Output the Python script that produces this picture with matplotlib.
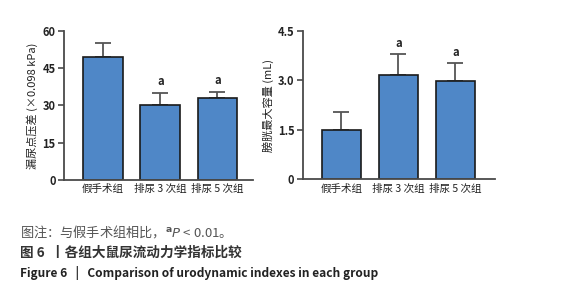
import matplotlib
matplotlib.use('Agg')
import matplotlib.pyplot as plt

plt.rcParams['font.family'] = ['Noto Sans CJK SC', 'DejaVu Sans']
plt.rcParams['mathtext.fontset'] = 'dejavusans'

# 数据
groups = ['假手术组', '排尿 3 次组', '排尿 5 次组']
pressure = [49.4, 30.2, 33.0]
pressure_err = [5.6, 5.0, 2.6]
volume = [1.49, 3.16, 2.99]
volume_err = [0.56, 0.63, 0.52]
marks = ['', 'a', 'a']

bar_color = '#4f87c7'
axis_color = '#4a4a4a'

fig = plt.figure(figsize=(5.65, 3.0), dpi=100)
ax1 = fig.add_axes([0.1133, 0.40, 0.3345, 0.4967])
ax2 = fig.add_axes([0.5357, 0.4023, 0.340, 0.4953])


def draw_panel(ax, vals, errs, ylim, yticks, yticklabels, ylabel, xlim):
    x = range(len(vals))
    ax.bar(x, vals, width=0.69, color=bar_color, edgecolor='#1a1a1a',
           linewidth=1.2, zorder=2)
    ax.errorbar(x, vals, yerr=[[0] * len(errs), errs], fmt='none',
                ecolor='#555555', elinewidth=1.3, capsize=5.5, capthick=1.3,
                zorder=1)
    for i, m in enumerate(marks):
        if m:
            ax.text(i, vals[i] + errs[i] + ylim[1] * 0.03, m, ha='center',
                    va='bottom', fontsize=8, fontweight='bold', color='#222222')
    ax.set_xlim(*xlim)
    ax.set_ylim(*ylim)
    ax.set_yticks(yticks)
    ax.set_yticklabels(yticklabels, fontsize=8, fontweight='bold', color='#222222')
    ax.set_xticks(list(x))
    ax.set_xticklabels(groups, fontsize=7.6, color='#222222')
    ax.tick_params(axis='x', length=0, pad=3)
    ax.tick_params(axis='y', length=4, width=1.2, color=axis_color, pad=2)
    ax.set_ylabel(ylabel, fontsize=8, color='#222222', labelpad=3)
    for s in ['top', 'right']:
        ax.spines[s].set_visible(False)
    for s in ['left', 'bottom']:
        ax.spines[s].set_color(axis_color)
        ax.spines[s].set_linewidth(1.3)


draw_panel(ax1, pressure, pressure_err, (0, 60), [0, 15, 30, 45, 60],
           ['0', '15', '30', '45', '60'], '漏尿点压差 (×0.098 kPa)', (-0.68, 2.62))
draw_panel(ax2, volume, volume_err, (0, 4.5), [0, 1.5, 3.0, 4.5],
           ['0', '1.5', '3.0', '4.5'], '膀胱最大容量 (mL)', (-0.68, 2.69))

fig.text(0.036, 1 - 232 / 300, '图注：与假手术组相比，$^{\\mathbf{a}}P$ < 0.01。',
         fontsize=9.5, color='#555555', va='center')
fig.text(0.036, 1 - 253 / 300, '图 6  丨各组大鼠尿流动力学指标比较',
         fontsize=9.8, fontweight='bold', color='#333333', va='center')
fig.text(0.036, 1 - 273 / 300, 'Figure 6   |   Comparison of urodynamic indexes in each group',
         fontsize=8.6, fontweight='bold', color='#222222', va='center')

fig.savefig('out.png', dpi=100)
